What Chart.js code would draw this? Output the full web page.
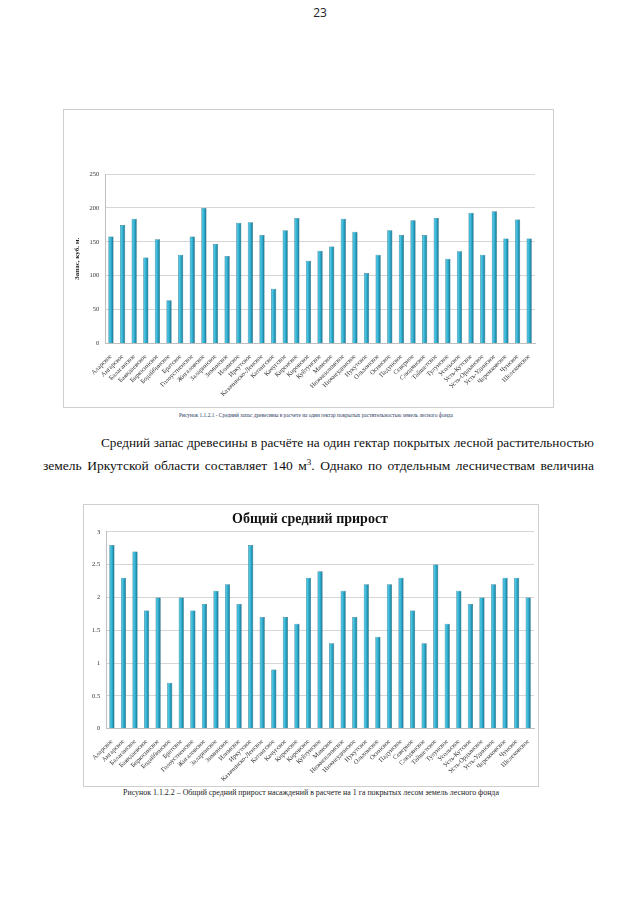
<!DOCTYPE html>
<html>
<head>
<meta charset="utf-8">
<script src="https://cdn.jsdelivr.net/npm/chart.js@4.4.1/dist/chart.umd.min.js"></script>
<style>
  html, body { margin: 0; padding: 0; background: #fff; }
  body { width: 640px; height: 905px; position: relative; overflow: hidden; font-family: "Liberation Serif", "Times New Roman", serif; }
  .pagenum { position: absolute; top: 4px; left: 0; width: 640px; text-align: center; font: 12px "Open Sans", sans-serif; color: #222; }
  .box { position: absolute; border: 1px solid #cfcfcf; background: #fff; }
  .caption { position: absolute; width: 640px; text-align: center; font-family: "Liberation Serif", "Times New Roman", serif; white-space: nowrap; }
  .line { position: absolute; font-family: "Liberation Serif", "Times New Roman", serif; font-size: 13.5px; line-height: 23px; color: #111;
          white-space: nowrap; }
</style>
</head>
<body>
<div class="pagenum">23</div>

<div class="box" style="left:63px;top:109px;width:489px;height:297px">
  <canvas id="stock-chart"></canvas>
</div>
<div class="caption" style="left:-4px;top:412px;font-size:5.4px;color:#2a3a5e">Рисунок 1.1.2.1 - Средний запас древесины в расчете на один гектар покрытых растительностью земель лесного фонда</div>

<span class="line" data-w="493" style="left:101px;top:431px">Средний запас древесины в расчёте на один гектар покрытых лесной растительностью</span>
<span class="line" data-w="551" style="left:43px;top:454px">земель Иркутской области составляет 140 м<sup style="font-size:9px;line-height:0">3</sup>. Однако по отдельным лесничествам величина</span>

<div class="box" style="left:83px;top:504px;width:454px;height:281px">
  <canvas id="growth-chart"></canvas>
</div>
<div class="caption" style="left:-9px;top:788px;font-size:7.9px;color:#222">Рисунок 1.1.2.2 – Общий средний прирост насаждений в расчете на 1 га покрытых лесом земель лесного фонда</div>

<script>
const forestries = [
  'Аларское', 'Ангарское', 'Балаганское', 'Баяндаевское', 'Бирюсинское', 'Бодайбинское',
  'Братское', 'Голоустненское', 'Жигаловское', 'Заларинское', 'Зиминское', 'Илимское',
  'Иркутское', 'Казачинско-Ленское', 'Катангское', 'Качугское', 'Киренское', 'Кировское',
  'Куйтунское', 'Мамское', 'Нижнеилимское', 'Нижнеудинское', 'Нукутское', 'Ольхонское',
  'Осинское', 'Падунское', 'Северное', 'Слюдянское', 'Тайшетское', 'Тулунское',
  'Усольское', 'Усть-Кутское', 'Усть-Ордынское', 'Усть-Удинское', 'Черемховское', 'Чунское',
  'Шелеховское'
];

// средний запас, куб. м / га
const stockValues = [
  158, 175, 184, 127, 154, 64, 131, 158, 200, 147, 129, 178,
  179, 160, 81, 167, 185, 122, 137, 143, 184, 165, 104, 131,
  167, 160, 182, 160, 185, 125, 136, 193, 131, 195, 155, 183,
  155
];

// общий средний прирост
const growthValues = [
  2.8, 2.3, 2.7, 1.8, 2.0, 0.7, 2.0, 1.8, 1.9, 2.1, 2.2, 1.9,
  2.8, 1.7, 0.9, 1.7, 1.6, 2.3, 2.4, 1.3, 2.1, 1.7, 2.2, 1.4,
  2.2, 2.3, 1.8, 1.3, 2.5, 1.6, 2.1, 1.9, 2.0, 2.2, 2.3, 2.3,
  2.0
];

// justify the two text lines by hand (word spacing), shrink if too wide
document.querySelectorAll('.line').forEach(el => {
  const target = +el.dataset.w;
  let size = 13.5;
  while (el.getBoundingClientRect().width > target && size > 9) {
    size -= 0.25;
    el.style.fontSize = size + 'px';
  }
  const gaps = (el.textContent.match(/ /g) || []).length;
  const extra = target - el.getBoundingClientRect().width;
  if (gaps) el.style.wordSpacing = (extra / gaps) + 'px';
});

const serif = 'Liberation Serif';
const gridCol = '#d6d6d6';

// cylinder-like shading across each bar
function barFill(ctx) {
  const chart = ctx.chart;
  if (!chart.chartArea || !chart.scales.x) return '#2aa3c4';
  const x = chart.scales.x.getPixelForValue(ctx.dataIndex);
  const w = 3;
  const g = chart.ctx.createLinearGradient(x - w, 0, x + w, 0);
  g.addColorStop(0, '#1f8fb0');
  g.addColorStop(0.3, '#4cc6e3');
  g.addColorStop(0.6, '#2aa3c4');
  g.addColorStop(1, '#0f5f78');
  return g;
}

function xAxis() {
  return {
    grid: { display: false },
    border: { color: '#bfbfbf' },
    ticks: {
      color: '#333', font: { family: serif, size: 6.5 },
      autoSkip: false, minRotation: 45, maxRotation: 45, padding: 1
    }
  };
}

new Chart(document.getElementById('stock-chart'), {
  type: 'bar',
  data: {
    labels: forestries,
    datasets: [{
      label: 'Запас',
      data: stockValues,
      backgroundColor: barFill,
      borderColor: '#175f75',
      borderWidth: 0.5,
      barPercentage: 0.5,
      categoryPercentage: 0.9
    }]
  },
  options: {
    responsive: true, maintainAspectRatio: false, animation: false,
    layout: { padding: { left: 7, right: 18, top: 64, bottom: 8 } },
    plugins: { legend: { display: false }, tooltip: { enabled: false } },
    scales: {
      x: xAxis(),
      y: {
        min: 0, max: 250,
        ticks: { stepSize: 50, color: '#333', font: { family: serif, size: 6.5 }, padding: 6 },
        grid: { color: gridCol, drawTicks: false },
        border: { color: '#bfbfbf' },
        title: { display: true, text: 'Запас, куб. м.', color: '#222', font: { family: serif, size: 7, weight: 'bold' }, padding: 2 }
      }
    }
  }
});

new Chart(document.getElementById('growth-chart'), {
  type: 'bar',
  data: {
    labels: forestries,
    datasets: [{
      label: 'Прирост',
      data: growthValues,
      backgroundColor: barFill,
      borderColor: '#175f75',
      borderWidth: 0.5,
      barPercentage: 0.5,
      categoryPercentage: 0.9
    }]
  },
  options: {
    responsive: true, maintainAspectRatio: false, animation: false,
    layout: { padding: { left: 2, right: 4, top: 4, bottom: 2 } },
    plugins: {
      legend: { display: false }, tooltip: { enabled: false },
      title: { display: true, text: 'Общий средний прирост', color: '#111', font: { family: serif, size: 14, weight: 'bold' }, padding: { top: 2, bottom: 4 } }
    },
    scales: {
      x: xAxis(),
      y: {
        min: 0, max: 3,
        ticks: { stepSize: 0.5, color: '#333', font: { family: serif, size: 6.5 }, padding: 6,
                 callback: v => String(v) },
        grid: { color: gridCol, drawTicks: false },
        border: { color: '#bfbfbf' }
      }
    }
  }
});
</script>
</body>
</html>
